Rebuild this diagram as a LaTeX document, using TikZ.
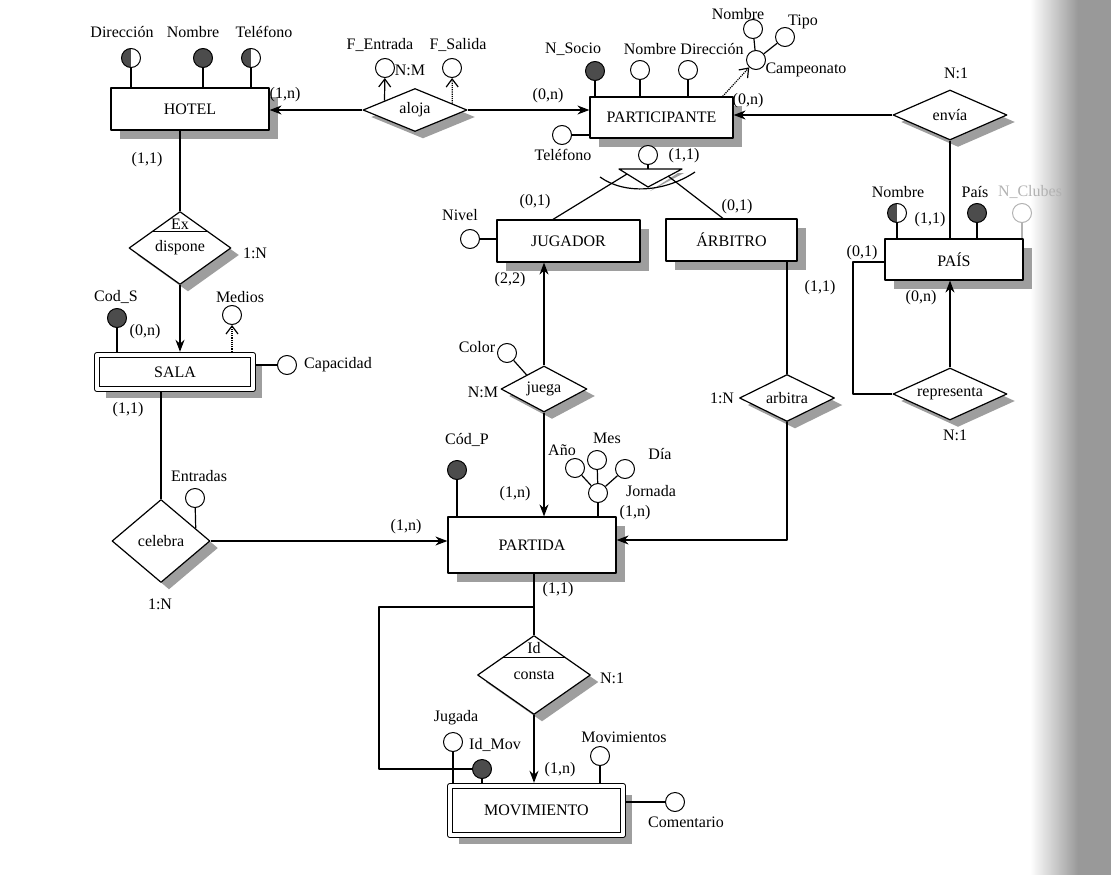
\documentclass[tikz,border=0pt]{standalone}
\usepackage{fontspec}
\setmainfont{Liberation Serif}
\usetikzlibrary{shapes.geometric,arrows.meta,shadows,calc}
\definecolor{keygray}{gray}{0.3}
\definecolor{shadegray}{gray}{0.62}
\begin{document}
\begin{tikzpicture}[x=1pt,y=-1pt,line join=round,line width=1.2pt,>={Stealth[length=12pt,width=9pt]}]
\tikzset{every node/.style={font=\fontsize{16}{19}\selectfont},
  ent/.style={draw,fill=white,inner sep=0pt,drop shadow={shadow xshift=9pt,shadow yshift=-9pt,fill=shadegray,opacity=1}},
  weak/.style={ent,double,double distance=4pt,outer sep=3.2pt},
  rel/.style={diamond,draw,fill=white,inner sep=0pt,drop shadow={shadow xshift=8pt,shadow yshift=-7pt,fill=shadegray,opacity=1}},
  attr/.style={circle,draw,fill=white,inner sep=0pt,minimum size=19pt,line width=1pt},
  key/.style={attr,fill=keygray},
  altkey/.style={attr,path picture={\fill[keygray] (path picture bounding box.south west) rectangle (path picture bounding box.north);}},
  lab/.style={inner sep=1pt},
  multi/.style={-{Straight Barb[length=8pt,width=12pt]}},
  multid/.style={multi,densely dotted}}
\useasboundingbox (0,0) rectangle (1111,875);
\shade[left color=white,right color=black!40] (1030,0) rectangle (1078,875);
\fill[black!40] (1078,0) rectangle (1111,875);

\node[ent,minimum width=158pt,minimum height=42pt] (hotel) at (190,109) {HOTEL};
\node[ent,minimum width=143pt,minimum height=41pt] (part) at (661.5,117.5) {PARTICIPANTE};
\node[ent,minimum width=143pt,minimum height=42pt] (jug) at (568.5,241) {JUGADOR};
\node[ent,minimum width=131pt,minimum height=42pt] (arb) at (731.5,240) {ÁRBITRO};
\node[ent,minimum width=138pt,minimum height=41pt] (pais) at (954,259.5) {PAÍS};
\node[weak,minimum width=156pt,minimum height=34pt] (sala) at (175,372) {SALA};
\node[ent,minimum width=168pt,minimum height=56pt] (partida) at (532,545) {PARTIDA};
\node[weak,minimum width=173pt,minimum height=49pt] (mov) at (536.5,810.5) {MOVIMIENTO};

\node[rel,minimum width=104pt,minimum height=43pt,aspect=2.4] (aloja) at (415,110) {aloja};
\node[rel,minimum width=114pt,minimum height=50pt,aspect=2.3] (envia) at (950,115) {envía};
\node[rel,minimum width=102pt,minimum height=73pt,aspect=1.4] (dispone) at (180,248) {dispone};
\node[rel,minimum width=86pt,minimum height=46pt,aspect=1.9] (juega) at (544,389) {juega};
\node[rel,minimum width=95pt,minimum height=47pt,aspect=2] (arbitra) at (787,398) {arbitra};
\node[rel,minimum width=114pt,minimum height=52pt,aspect=2.2] (repr) at (950,394) {representa};
\node[rel,minimum width=98pt,minimum height=83pt,aspect=1.2] (celebra) at (161,541) {celebra};
\node[rel,minimum width=113pt,minimum height=79pt,aspect=1.4] (consta) at (534,675) {consta};

\foreach \n/\s/\x/\y in {hdir/altkey/131/58, hnom/key/203/58, htel/altkey/251/58,
    fent/attr/385/68, fsal/attr/452/68, nsoc/key/595/71, pnom/attr/640/70, pdir/attr/688/70,
    camp/attr/756/60, cnom/attr/753/29, ctip/attr/785/37, ptel/attr/562/135, isa/attr/648/155,
    nivel/attr/470/239, color/attr/507/353, anom/altkey/897/213, apais/key/977/213,
    codp/key/457/470, jor/attr/598/493, ano/attr/575/468, mes/attr/597/460, dia/attr/625/469,
    cods/key/117/318, medios/attr/232/315, capac/attr/287/365, entr/attr/195/498,
    jugada/attr/453/742, idmov/key/482/769, movs/attr/600/756, coment/attr/675/802}
  \node[\s] (\n) at (\x,\y) {};
\node[attr,draw=gray!60] (nclub) at (1022,213) {};

\foreach \t/\x/\y [count=\i] in {Dirección/122/32, Nombre/193/32, Teléfono/264/32,
    F\_Entrada/380/45, F\_Salida/458/45, N\_Socio/573/49, Nombre/650/49, Dirección/712/49,
    Nombre/738/14, Tipo/803/22, Campeonato/806/70, Teléfono/563/155, Nivel/460/215,
    Color/477/347, Año/562/450, Mes/607/438, Día/660/454, Jornada/651/491, Cód\_P/467/440,
    Nombre/898/192, País/975/192, Cod\_S/116/297, Medios/240/297, Capacidad/338/365,
    Entradas/199/476, Jugada/456/718, Id\_Mov/495/745, Movimientos/624/737,
    Comentario/686/822, Ex/180/224, Id/534/648,
    {(1,n)}/285/95, {(0,n)}/548/96, {(0,n)}/748/101, N:M/410/70, N:1/956/73,
    {(1,1)}/930/220, {(1,1)}/684/156, {(0,1)}/535/202, {(0,1)}/737/207, {(1,1)}/147/160,
    1:N/255/253, {(0,n)}/145/332, {(1,1)}/128/410, 1:N/160/604, {(1,n)}/406/527,
    {(2,2)}/510/280, N:M/483/392, {(1,n)}/515/494, {(1,n)}/635/513, {(1,1)}/820/288,
    1:N/722/398, {(0,1)}/862/253, {(0,n)}/921/298, N:1/955/435, {(1,1)}/558/590,
    N:1/612/678, {(1,n)}/560/770}
  \node[lab] (t\i) at (\x,\y) {\t};
\node[lab,text=gray!60] (tnclub) at (1030,192) {N\_Clubes};

\foreach \a/\b in {hdir/hotel, hnom/hotel, htel/hotel, nsoc/part, pnom/part, pdir/part,
    anom/pais, apais/pais, codp/partida, jor/partida, cods/sala, jugada/mov, idmov/mov, movs/mov}
  \draw (\a) -- (\a |- \b.north);
\draw[gray!60] (nclub) -- (nclub |- pais.north);
\draw (jor) -- (mes); \draw (jor) -- (ano); \draw (jor) -- (dia);
\draw (camp) -- (cnom); \draw (camp) -- (ctip);
\draw (ptel) -- (ptel -| part.west);
\draw (nivel) -- (nivel -| jug.west);
\draw (capac) -- (capac -| sala.east);
\draw (coment) -- (coment -| mov.east);
\draw (color) -- ($(juega.west)!0.6!(juega.north)$);
\draw (entr) -- ($(celebra.north)!0.7!(celebra.east)$);
\draw[multi] ($(aloja.west)!0.42!(aloja.north)$) -- (fent);
\draw[multid] ($(aloja.north)!0.71!(aloja.east)$) -- (fsal);
\draw[multid] ([xshift=-11pt]part.north east) -- (camp);
\draw[multid] (medios |- sala.north) -- (medios);

\draw[->] (aloja.west) -- (aloja.west -| hotel.east);
\draw[->] (aloja.east) -- (aloja.east -| part.west);
\draw[->] (envia.west) -- (envia.west -| part.east);
\draw (envia.south) -- (envia.south |- pais.north);
\draw (hotel.south -| dispone.north) -- (dispone.north);
\draw[->] (dispone.south) -- (dispone.south |- sala.north);
\draw (sala.south -| celebra.north) -- (celebra.north);
\draw[->] (celebra.east) -- (celebra.east -| partida.west);
\draw[->] (juega.north) -- (juega.north |- jug.south);
\draw[->] (juega.south) -- (juega.south |- partida.north);
\draw (arbitra.north) -- (arbitra.north |- arb.south);
\draw[->] (arbitra.south) |- ([yshift=5pt]partida.east);
\draw[->] (repr.north) -- (repr.north |- pais.south);
\coordinate (rc) at (853,262);
\draw (repr.west) -| (rc) -- (rc -| pais.west);
\draw (partida.south -| consta.north) -- (consta.north);
\coordinate (lp) at (379,607);
\draw (lp -| consta.north) -- (lp) |- (idmov);
\draw[->] (consta.south) -- (consta.south |- mov.north);
\draw ($(consta.north)!0.56!(consta.west)$) -- ($(consta.north)!0.56!(consta.east)$);
\draw ($(dispone.north)!0.55!(dispone.west)$) -- ($(dispone.north)!0.55!(dispone.east)$);

\coordinate (ta) at (619,169); \coordinate (tb) at (682,169); \coordinate (tc) at (648,187);
\fill[shadegray] ($(tb)+(-4,4)$) -- ($(tc)+(2,4)$) -- ($(tc)+(6,2)$) -- ($(tb)+(2,4)$) -- cycle;
\draw[fill=white] (ta) -- (tb) -- (tc) -- cycle;
\draw (isa) -- (isa |- ta);
\draw (600,177) .. controls (625,195) and (665,192) .. (695,172);
\coordinate (tl) at (627,174); \coordinate (tr) at (668,176);
\draw (tl) -- ([xshift=-15.5pt]jug.north);
\draw (tr) -- ([xshift=-8.5pt]arb.north);
\end{tikzpicture}
\end{document}
